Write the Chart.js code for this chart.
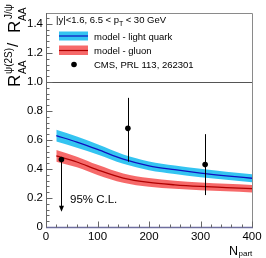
<!DOCTYPE html>
<html>
<head>
<meta charset="utf-8">
<script src="https://cdn.jsdelivr.net/npm/chart.js@4/dist/chart.umd.min.js"></script>
<style>
  html, body { margin: 0; padding: 0; background: #fff; }
  #chart { display: block; }
</style>
</head>
<body>
<canvas id="chart" width="266" height="258"></canvas>
<script>
// model curves (N_part grid)
const npart = [20, 60, 100, 150, 200, 250, 300, 350, 400];
const quarkMid = [0.63, 0.585, 0.535, 0.468, 0.422, 0.395, 0.372, 0.353, 0.336];
const quarkHigh = [0.67, 0.623, 0.57, 0.50, 0.452, 0.424, 0.401, 0.381, 0.364];
const quarkLow = [0.59, 0.547, 0.50, 0.436, 0.392, 0.366, 0.343, 0.325, 0.308];
const gluonMid = [0.49, 0.448, 0.394, 0.337, 0.307, 0.291, 0.28, 0.272, 0.264];
const gluonHigh = [0.53, 0.485, 0.429, 0.369, 0.337, 0.319, 0.307, 0.298, 0.29];
const gluonLow = [0.45, 0.411, 0.359, 0.305, 0.277, 0.263, 0.253, 0.246, 0.238];

// CMS data
const cmsNpart = [30, 159, 309];
const cmsValue = [0.465, 0.68, 0.43];
const cmsHigh = [null, 0.89, 0.64];
const cmsLow = [0.105, 0.45, 0.22];
const cmsLimit = [true, false, false];

// axes
const xTicks = [0, 100, 200, 300, 400];
const yTicks = [0, 0.2, 0.4, 0.6, 0.8, 1, 1.2, 1.4];
const xMinorStep = 20;
const yMinorStep = 0.04;

const FONT = '"Liberation Sans", Arial, sans-serif';
const pts = (xs, ys) => xs.map((x, i) => ({ x: x, y: ys[i] }));

const framePlugin = {
  id: 'frame',
  afterDatasetsDraw(chart) {
    const ctx = chart.ctx;
    const xs = chart.scales.x, ys = chart.scales.y;
    const a = chart.chartArea;

    // error bars and upper limit arrow
    ctx.save();
    ctx.strokeStyle = '#000';
    ctx.fillStyle = '#000';
    ctx.lineWidth = 1;
    cmsNpart.forEach((n, i) => {
      const px = Math.round(xs.getPixelForValue(n)) + 0.5;
      const top = ys.getPixelForValue(cmsLimit[i] ? cmsValue[i] : cmsHigh[i]);
      const bot = ys.getPixelForValue(cmsLow[i]);
      ctx.beginPath();
      ctx.moveTo(px, top);
      ctx.lineTo(px, cmsLimit[i] ? bot - 5 : bot);
      ctx.stroke();
      if (cmsLimit[i]) {
        ctx.beginPath();
        ctx.moveTo(px - 2.5, bot - 6);
        ctx.lineTo(px + 2.5, bot - 6);
        ctx.lineTo(px, bot);
        ctx.closePath();
        ctx.fill();
      }
    });
    ctx.restore();

    // frame
    ctx.save();
    ctx.lineWidth = 1;
    ctx.strokeStyle = '#8a8a8a';
    ctx.beginPath();
    ctx.moveTo(a.left, a.top + 0.5);
    ctx.lineTo(a.right + 0.5, a.top + 0.5);
    ctx.lineTo(a.right + 0.5, a.bottom);
    ctx.stroke();

    const y1 = Math.round(ys.getPixelForValue(1)) + 0.5;
    ctx.strokeStyle = '#555';
    ctx.beginPath();
    ctx.moveTo(a.left, y1);
    ctx.lineTo(a.right, y1);
    ctx.stroke();

    // y axis + ticks
    const lx = Math.round(a.left) + 0.5;
    ctx.strokeStyle = '#666';
    ctx.beginPath();
    ctx.moveTo(lx, a.top);
    ctx.lineTo(lx, a.bottom);
    for (let v = 0; v <= ys.max + 1e-9; v += yMinorStep) {
      const py = Math.round(ys.getPixelForValue(v)) + 0.5;
      const major = yTicks.some(t => Math.abs(t - v) < 1e-6);
      ctx.moveTo(lx, py);
      ctx.lineTo(lx + (major ? 6 : 3), py);
    }
    ctx.stroke();

    // x axis + ticks
    const by = Math.round(a.bottom) + 0.5;
    ctx.strokeStyle = '#6e6e9e';
    ctx.lineWidth = 1.5;
    ctx.beginPath();
    ctx.moveTo(a.left, by);
    ctx.lineTo(a.right + 1, by);
    ctx.stroke();
    ctx.lineWidth = 1;
    ctx.strokeStyle = '#666';
    ctx.beginPath();
    for (let v = 0; v <= xs.max; v += xMinorStep) {
      const px = Math.round(xs.getPixelForValue(v)) + 0.5;
      const major = xTicks.includes(v);
      ctx.moveTo(px, by);
      ctx.lineTo(px, by - (major ? 6 : 3));
    }
    ctx.stroke();
    ctx.restore();

    // y title
    ctx.save();
    ctx.fillStyle = '#000';
    ctx.textAlign = 'left';
    ctx.textBaseline = 'alphabetic';
    ctx.translate(20, 87);
    ctx.rotate(-Math.PI / 2);
    ctx.font = '17px ' + FONT;
    ctx.fillText('R', 0, 0);
    ctx.font = '10px ' + FONT;
    ctx.fillText('\u03C8(2S)', 13, -8);
    ctx.fillText('AA', 13, 6);
    ctx.font = '15px ' + FONT;
    ctx.fillText('/', 40, -2);
    ctx.font = '17px ' + FONT;
    ctx.fillText('R', 54, 0);
    ctx.font = '10px ' + FONT;
    ctx.fillText('J/\u03C8', 68, -8);
    ctx.fillText('AA', 66, 6);
    ctx.restore();

    // x title
    ctx.save();
    ctx.fillStyle = '#000';
    ctx.font = '12.5px ' + FONT;
    ctx.fillText('N', 229, 255);
    ctx.font = '8px ' + FONT;
    ctx.fillText('part', 238.5, 255.5);
    ctx.restore();

    // legend
    ctx.save();
    ctx.fillStyle = '#000';
    ctx.font = '9.5px ' + FONT;
    let t = '|y|<1.6, 6.5 < p';
    ctx.fillText(t, 56, 23);
    let w = ctx.measureText(t).width;
    ctx.font = '7px ' + FONT;
    ctx.fillText('T', 56 + w, 26);
    ctx.font = '9.5px ' + FONT;
    ctx.fillText(' < 30 GeV', 56 + w + 4, 23);

    ctx.fillStyle = 'rgba(30, 190, 240, 0.9)';
    ctx.fillRect(59, 31.5, 29, 9);
    ctx.fillStyle = 'rgba(245, 80, 80, 0.85)';
    ctx.fillRect(59, 45.5, 29, 9.5);
    ctx.lineWidth = 1.2;
    ctx.strokeStyle = '#1010c0';
    ctx.beginPath(); ctx.moveTo(59, 36); ctx.lineTo(88, 36); ctx.stroke();
    ctx.strokeStyle = '#b00000';
    ctx.beginPath(); ctx.moveTo(59, 50.5); ctx.lineTo(88, 50.5); ctx.stroke();
    ctx.fillStyle = '#000';
    ctx.beginPath(); ctx.arc(74, 64.5, 2.8, 0, Math.PI * 2); ctx.fill();

    ctx.fillText('model - light quark', 94, 39.5);
    ctx.fillText('model - gluon', 94, 53.5);
    ctx.fillText('CMS, PRL 113, 262301', 94, 67.5);

    ctx.font = '11.5px ' + FONT;
    ctx.fillText('95% C.L.', 70, 203);
    ctx.restore();
  }
};

const curve = { pointRadius: 0, cubicInterpolationMode: 'monotone' };

new Chart(document.getElementById('chart'), {
  type: 'line',
  data: {
    datasets: [
      {
        type: 'scatter',
        data: pts(cmsNpart, cmsValue),
        pointRadius: 2.8,
        pointBackgroundColor: '#000',
        pointBorderWidth: 0,
        showLine: false
      },
      { ...curve, data: pts(npart, quarkMid), borderColor: '#1010c0', borderWidth: 1.3, fill: false },
      { ...curve, data: pts(npart, quarkHigh), borderWidth: 0, borderColor: 'rgba(0,0,0,0)', fill: false },
      { ...curve, data: pts(npart, quarkLow), borderWidth: 0, borderColor: 'rgba(0,0,0,0)', fill: '-1', backgroundColor: 'rgba(30, 190, 240, 0.9)' },
      { ...curve, data: pts(npart, gluonMid), borderColor: '#b00000', borderWidth: 1.3, fill: false },
      { ...curve, data: pts(npart, gluonHigh), borderWidth: 0, borderColor: 'rgba(0,0,0,0)', fill: false },
      { ...curve, data: pts(npart, gluonLow), borderWidth: 0, borderColor: 'rgba(0,0,0,0)', fill: '-1', backgroundColor: 'rgba(245, 80, 80, 0.85)' }
    ]
  },
  options: {
    responsive: false,
    animation: false,
    layout: { padding: { top: 13, right: 14, left: 0, bottom: 0 } },
    plugins: { legend: { display: false }, tooltip: { enabled: false } },
    scales: {
      x: {
        type: 'linear',
        min: 0,
        max: 400,
        afterBuildTicks: s => { s.ticks = xTicks.map(v => ({ value: v })); },
        afterFit: s => { s.height = 31; },
        grid: { display: false, drawTicks: false },
        border: { display: false },
        ticks: { color: '#000', font: { family: FONT, size: 11.5 }, padding: 3, maxRotation: 0, autoSkip: false }
      },
      y: {
        min: 0,
        max: 1.475,
        afterBuildTicks: s => { s.ticks = yTicks.map(v => ({ value: v })); },
        afterFit: s => { s.width = 46; },
        grid: { display: false, drawTicks: false },
        border: { display: false },
        ticks: { color: '#000', font: { family: FONT, size: 11.5 }, padding: 3, autoSkip: false }
      }
    }
  },
  plugins: [framePlugin]
});
</script>
</body>
</html>
